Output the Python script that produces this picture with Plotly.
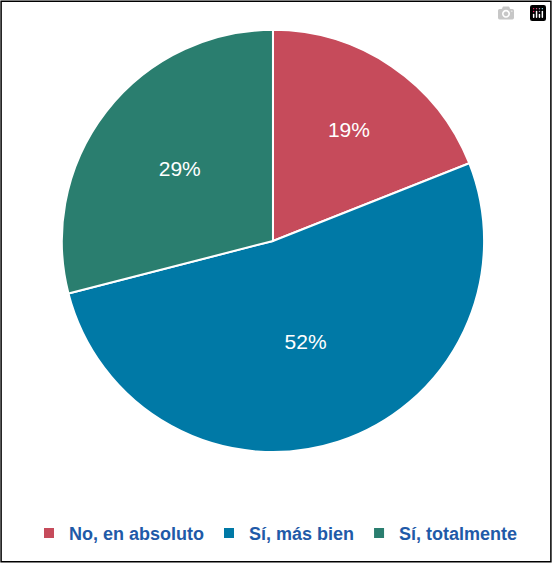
import plotly.graph_objects as go

labels = ["No, en absoluto", "Sí, más bien", "Sí, totalmente"]
values = [19, 52, 29]
colors = ["#C64B5B", "#0079A6", "#2A7E6F"]

fig = go.Figure(go.Pie(
    labels=labels, values=values, sort=False, direction="clockwise", rotation=0,
    marker=dict(colors=colors, line=dict(color="white", width=2)),
    textinfo="percent", texttemplate="%{percent:.0%}",
    textfont=dict(color="white", size=21, family="Arial"),
    insidetextorientation="horizontal",
    domain=dict(x=[0.112, 0.877], y=[0.197, 0.947]),
))
fig.update_layout(
    width=552, height=563, margin=dict(l=0, r=0, t=0, b=0),
    paper_bgcolor="white", font=dict(family="Arial"),
    legend=dict(orientation="h", x=0.5, xanchor="center", y=0.02, yanchor="bottom",
                font=dict(color="#1F5AA8", size=18, family="Arial", weight="bold"),
                itemwidth=30, tracegroupgap=0),
    shapes=[dict(type="rect", xref="paper", yref="paper", x0=0.002, y0=0.002, x1=0.998, y1=0.998,
                 line=dict(color="black", width=1.5))],
)
fig.write_html("out.html", post_script="document.body.style.margin='0';document.body.style.overflow='hidden';")
